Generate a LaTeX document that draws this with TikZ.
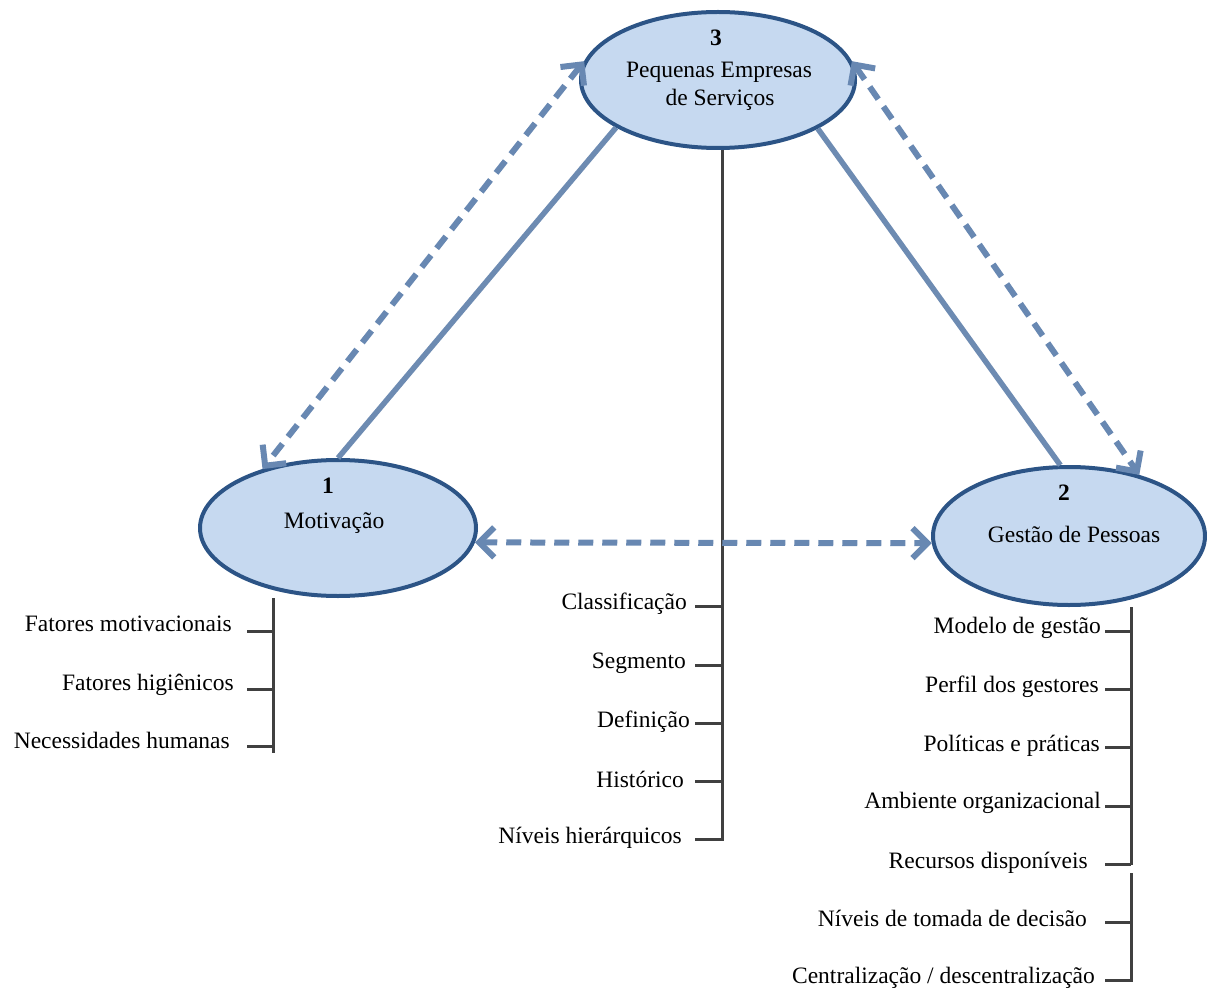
\documentclass[tikz,border=0pt]{standalone}
\usepackage{fontspec}
\setmainfont{Liberation Serif}
\usetikzlibrary{arrows.meta,shapes.geometric}
\definecolor{ellfill}{RGB}{198,217,240}
\definecolor{elldraw}{RGB}{44,84,134}
\definecolor{linkc}{RGB}{109,139,178}
\definecolor{dashc}{RGB}{104,136,178}
\definecolor{barc}{RGB}{64,64,64}
\tikzset{
  ell/.style={ellipse, fill=ellfill, draw=elldraw, line width=4pt, inner sep=0pt},
  txt/.style={font=\fontsize{23.5}{27}\selectfont, inner sep=0pt},
  num/.style={font=\fontsize{23.5}{27}\selectfont\bfseries, inner sep=0pt},
  lab/.style={txt, anchor=base east},
  link/.style={draw=linkc, line width=5.5pt},
  dlink/.style={draw=dashc, line width=6pt, dash pattern=on 15pt off 9pt,
    {Straight Barb[length=15pt,width=30pt,line width=6pt]}-{Straight Barb[length=15pt,width=30pt,line width=6pt]}},
  bar/.style={draw=barc, line width=3pt},
}
\begin{document}
\begin{tikzpicture}[x=1pt,y=-1pt]
\useasboundingbox (0,0) rectangle (1207,992);

% ellipses
\node[ell, minimum width=274pt, minimum height=136pt] (e3) at (718,80) {};
\node[ell, minimum width=276pt, minimum height=136pt] (e1) at (338,528) {};
\node[ell, minimum width=272pt, minimum height=138pt] (e2) at (1069,536) {};

\node[num] (n3) at (716,38) {3};
\node[txt] (t3a) at (719,72) {Pequenas Empresas};
\node[txt] (t3b) at (720,100) {de Serviços};
\node[num] (n1) at (328,486) {1};
\node[txt] (t1) at (334,523) {Motivação};
\node[num] (n2) at (1064,493) {2};
\node[txt] (t2) at (1074,534) {Gestão de Pessoas};

% bars
\coordinate (cb) at (722,841);
\coordinate (lb) at (273,753);
\coordinate (rb) at (1131,865);
\coordinate (rb2t) at (1131,873);
\coordinate (rb2) at (1131,982);
\draw[bar] (e3.south -| cb) -- (cb);
\draw[bar] (e1.south -| lb) -- (lb);
\draw[bar] (e2.south -| rb) -- (rb);
\draw[bar] (rb2t) -- (rb2);

% central labels
\foreach \n/\t/\ex/\by/\ty in {c1/{Classificação}/687/609/606,
                               c2/{Segmento}/686/668/665,
                               c3/{Definição}/690/727/723,
                               c4/{Histórico}/684/787/781,
                               c5/{Níveis hierárquicos}/682/843/839}{
  \node[lab] (\n) at (\ex,\by) {\t};
  \coordinate (\n a) at (695,\ty);
  \coordinate (\n b) at (722,\ty);
  \draw[bar] (\n a) -- (\n b);
}
% left labels
\foreach \n/\t/\ex/\by/\ty in {l1/{Fatores motivacionais}/232/631/631,
                               l2/{Fatores higiênicos}/234/690/689,
                               l3/{Necessidades humanas}/230/748/746}{
  \node[lab] (\n) at (\ex,\by) {\t};
  \coordinate (\n a) at (247,\ty);
  \coordinate (\n b) at (273,\ty);
  \draw[bar] (\n a) -- (\n b);
}
% right labels
\foreach \n/\t/\ex/\by/\ty in {r1/{Modelo de gestão}/1101/633/631,
                               r2/{Perfil dos gestores}/1099/692/689,
                               r3/{Políticas e práticas}/1100/751/747,
                               r4/{Ambiente organizacional}/1101/808/806,
                               r5/{Recursos disponíveis}/1088/868/864,
                               r6/{Níveis de tomada de decisão}/1087/926/922,
                               r7/{Centralização / descentralização}/1095/983/980}{
  \node[lab] (\n) at (\ex,\by) {\t};
  \coordinate (\n a) at (1105,\ty);
  \coordinate (\n b) at (1131,\ty);
  \draw[bar] (\n a) -- (\n b);
}

% solid links
\draw[link] (e3.205) -- (e1.north);
\draw[link] (e3.334) -- (e2.97);

% dashed double arrows
\draw[dlink] (e3.172) -- (e1.142);
\draw[dlink] (e3.8) -- (e2.41);
\draw[dlink] (e1.-6) -- (e2.183);
\end{tikzpicture}
\end{document}
